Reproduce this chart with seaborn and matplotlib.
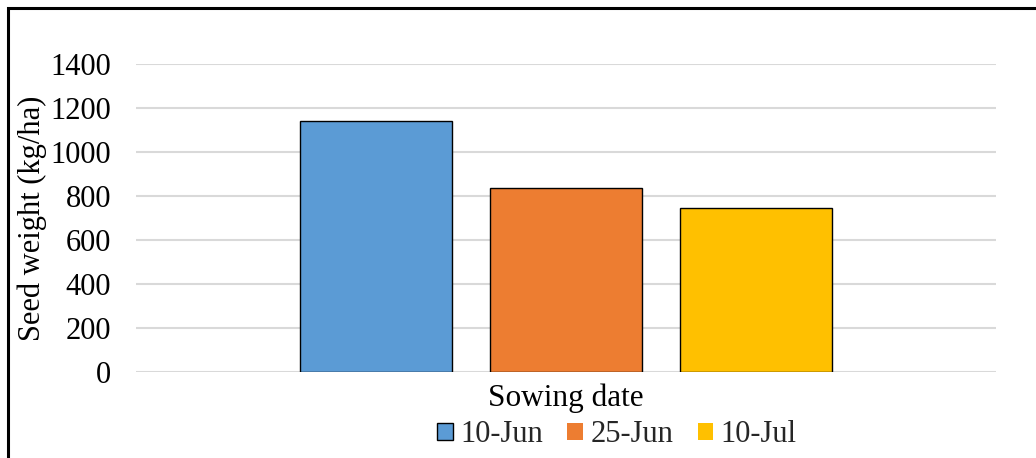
import matplotlib
matplotlib.use("Agg")
import matplotlib.pyplot as plt
from matplotlib.patches import Rectangle
import seaborn as sns
import pandas as pd

# Seed weight by sowing date
category = ["Sowing date"]
sowing_dates = ["10-Jun", "25-Jun", "10-Jul"]
seed_weight = [1142, 835, 745]
bar_colors = ["#5B9BD5", "#ED7D31", "#FFC000"]
y_ticks = [0, 200, 400, 600, 800, 1000, 1200, 1400]

df = pd.DataFrame({
    "group": category * len(sowing_dates),
    "date": sowing_dates,
    "weight": seed_weight,
})

sns.set_theme(style="white")
plt.rcParams["font.family"] = ["Liberation Serif", "DejaVu Serif"]

FS = 22
W, H = 1036, 458
fig = plt.figure(figsize=(W / 100, H / 100), dpi=100)
ax = fig.add_axes([136 / W, (H - 372) / H, (996 - 136) / W, (372 - 64) / H])

sns.barplot(
    data=df, x="group", y="weight", hue="date",
    hue_order=sowing_dates, palette=bar_colors, saturation=1,
    width=0.663, gap=0.2, edgecolor="black", linewidth=1.0,
    ax=ax, legend=True,
)

ax.set_xlim(-0.5, 0.5)
ax.set_ylim(0, 1400)
ax.set_yticks(y_ticks)
ax.set_yticklabels([str(v) for v in y_ticks], fontsize=FS, color="black")
ax.tick_params(axis="y", length=0, pad=18)
ax.set_xticks([])
ax.yaxis.grid(True, color="#d9d9d9", linewidth=1.5)
ax.set_axisbelow(True)
for s in ax.spines.values():
    s.set_visible(False)

ax.set_ylabel("Seed weight (kg/ha)", fontsize=FS, color="black", labelpad=2)
ax.set_xlabel("Sowing date", fontsize=FS + 0.5, color="black", labelpad=8)

handles, labels = ax.get_legend_handles_labels()
ax.get_legend().remove()
for i, h in enumerate(handles):
    if i > 0:
        h.set_edgecolor("none")
fig.legend(
    handles, labels, loc="center", bbox_to_anchor=(617 / W, 1 - 435 / H),
    ncol=3, frameon=False, fontsize=FS, handlelength=0.5, handleheight=0.5,
    handletextpad=0.25, columnspacing=0.8, borderaxespad=0,
)

# outer chart frame
fig.patches.append(Rectangle((8 / W, -0.05), 1.1, 1 - 8 / H + 0.05,
                             transform=fig.transFigure, fill=False,
                             edgecolor="black", linewidth=2.2))

fig.savefig("out.png", dpi=100)
